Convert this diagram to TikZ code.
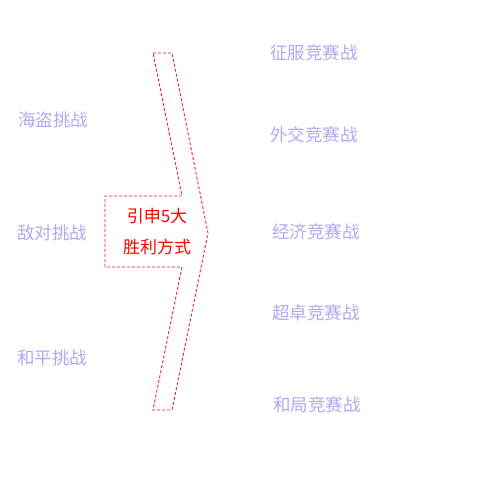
\documentclass[tikz,border=0pt]{standalone}
\usepackage{fontspec}
\newfontfamily\cjk{Noto Sans CJK SC}
\usetikzlibrary{positioning}
\definecolor{lavtext}{RGB}{175,170,240}
\definecolor{arrowred}{RGB}{240,20,40}

\begin{document}
\begin{tikzpicture}[
  x=1pt, y=-1pt,
  challenge/.style={font=\cjk\fontsize{17.5}{17.5}\selectfont, text=lavtext, inner sep=0pt},
  contest/.style={font=\cjk\fontsize{17.5}{17.5}\selectfont, text=lavtext, inner sep=0pt},
  outline/.style={draw=arrowred, line width=0.85pt, dash pattern=on 3pt off 2pt},
  centre/.style={font=\cjk\fontsize{17}{17}\selectfont, text=red, align=center, inner sep=0pt},
]
  \useasboundingbox (0,0) rectangle (500,500);

  % Big arrow outline
  \draw[outline] (153,53) -- (172,53) -- (208,233) -- (172,410) -- (153,410)
    -- (182,267) -- (105,267) -- (105,196) -- (182,196) -- cycle;
  \node[centre] (ways) at (157,216) {引申5大};
  \node[centre, below=15pt of ways] (ways2) {胜利方式};

  % Challenges (left)
  \node[challenge] (pirate) at (53,120) {海盗挑战};
  \node[challenge] (hostile) at (52,233) {敌对挑战};
  \node[challenge] (peace) at (52,358) {和平挑战};

  % Contests (right)
  \node[contest] (conquest) at (314,53) {征服竞赛战};
  \node[contest] (diplomacy) at (314,135) {外交竞赛战};
  \node[contest] (economy) at (316,232) {经济竞赛战};
  \node[contest] (excel) at (316,313) {超卓竞赛战};
  \node[contest] (draw) at (317,405) {和局竞赛战};
\end{tikzpicture}
\end{document}
